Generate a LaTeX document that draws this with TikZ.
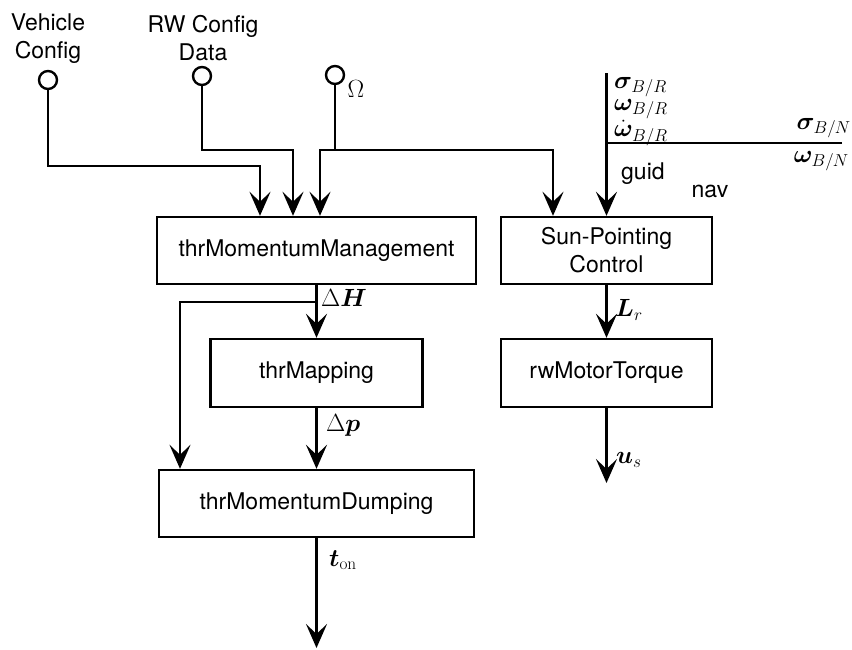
\documentclass[tikz,border=0pt]{standalone}
\usepackage[no-math]{fontspec}
\setmainfont{TeX Gyre Heros}
\usepackage{bm}
\DeclareMathSizes{23}{23}{19}{15}
\usetikzlibrary{arrows.meta}

\begin{document}
\begin{tikzpicture}[x=1pt,y=1pt,yscale=-1,xscale=1,
            line width=2.4pt,
            every node/.style={font=\fontsize{23}{28}\selectfont},
            block/.style={draw, rectangle, align=center, inner sep=0pt, line width=2.4pt},
            port/.style={draw, circle, minimum size=18pt, inner sep=0pt, line width=2.4pt},
            flow/.style={-{Stealth[length=24pt,width=21pt,inset=10pt]}},
            lbl/.style={inner sep=1pt}]
            \useasboundingbox (0,0) rectangle (852,649);

            % Blocks
            \node[block, minimum width=319pt, minimum height=67pt] (mm) at (316.5,250.5) {thrMomentumManagement};
            \node[block, minimum width=212pt, minimum height=68pt] (map) at (316.5,373) {thrMapping};
            \node[block, minimum width=315pt, minimum height=67pt] (dump) at (316.5,503.5) {thrMomentumDumping};
            \node[block, minimum width=211pt, minimum height=67pt] (sun) at (606.5,250.5) {Sun-Pointing\\Control};
            \node[block, minimum width=211pt, minimum height=68pt] (rw) at (606.5,373) {rwMotorTorque};

            % Input ports
            \node[port] (veh) at (48,80) {};
            \node[align=center] (vehtxt) at (48,39) {Vehicle\\Config};
            \node[port] (rwcfg) at (202,76) {};
            \node[align=center] (rwtxt) at (203,38) {RW Config\\Data};
            \node[port] (om) at (335,75) {};
            \node[lbl] (omtxt) at (356,89) {$\Omega$};

            % Free ends
            \coordinate (guidtop) at (606.5,73);
            \coordinate (navend) at (842,143);
            \coordinate (ton) at (316.5,648);
            \coordinate (us) at (606.5,483);

            % Inputs to thrMomentumManagement
            \draw[flow] (veh) |- (260,166) -- (260,166 |- mm.north);
            \draw[flow] (rwcfg) |- (293,150) -- (293,150 |- mm.north);
            \draw[flow] (om) |- (320,150) -- (320,150 |- mm.north);
            \draw[flow] (om) |- (553,150) -- (553,150 |- sun.north);

            % guid / nav
            \draw[flow] (guidtop) -- (guidtop |- sun.north);
            \draw (navend) -- (navend -| guidtop);

            % thruster chain
            \draw[flow] (mm) -- (map);
            \draw[flow] (mm.south |- 0,302) -| (180,302 |- dump.north);
            \draw[flow] (map) -- (dump);
            \draw[flow] (dump) -- (ton);

            % RW chain
            \draw[flow] (sun) -- (rw);
            \draw[flow] (rw) -- (us);

            % Labels
            \node[lbl, anchor=west] (dH) at (319,298) {$\Delta\bm{H}$};
            \node[lbl, anchor=west] (dp) at (324,425) {$\Delta\bm{p}$};
            \node[lbl, anchor=west] (tonl) at (327,560) {$\bm{t}_{\mathrm{on}}$};
            \node[lbl, anchor=west] (Lr) at (613,310) {$\bm{L}_r$};
            \node[lbl, anchor=west] (usl) at (614,460) {$\bm{u}_s$};
            \node[inner sep=0pt, anchor=north west, align=left,
                  font=\fontsize{23}{22}\selectfont] (guidlbl) at (613,76)
                 {$\bm{\sigma}_{B/R}$\\$\bm{\omega}_{B/R}$\\$\dot{\bm{\omega}}_{B/R}$};
            \node[lbl, anchor=east] (sBN) at (853,128) {$\bm{\sigma}_{B/N}$};
            \node[lbl, anchor=east] (wBN) at (851,161) {$\bm{\omega}_{B/N}$};
            \node[lbl, anchor=west] (guid) at (619,174) {guid};
            \node[lbl] (nav) at (710,191) {nav};

\end{tikzpicture}
\end{document}
